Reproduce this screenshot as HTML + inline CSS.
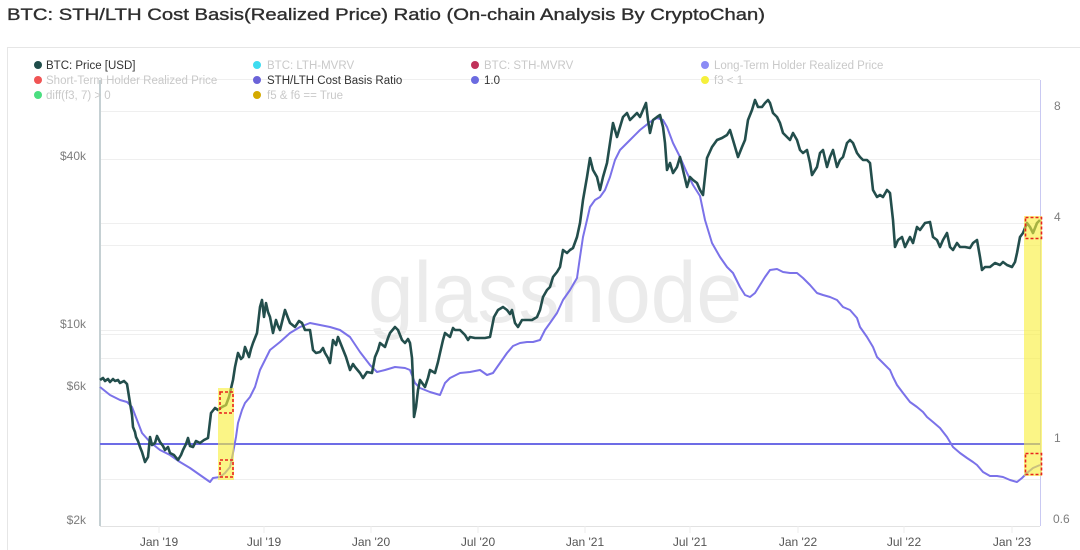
<!DOCTYPE html>
<html><head><meta charset="utf-8"><style>
html,body{margin:0;padding:0;background:#fff;}
svg{display:block;}
</style></head><body>
<svg width="1080" height="550" viewBox="0 0 1080 550" xmlns="http://www.w3.org/2000/svg" font-family="'Liberation Sans', sans-serif">
<rect width="1080" height="550" fill="#fff"/>
<text x="7" y="20" font-size="17" fill="#2e2e2e" stroke="#2e2e2e" stroke-width="0.35" textLength="758" lengthAdjust="spacingAndGlyphs">BTC: STH/LTH Cost Basis(Realized Price) Ratio (On-chain Analysis By CryptoChan)</text>
<rect x="7.5" y="47.5" width="1090" height="520" fill="none" stroke="#e6e6e6" stroke-width="1"/>

<!-- watermark -->
<text x="368" y="322" font-size="86" fill="#ebebeb" textLength="374" lengthAdjust="spacingAndGlyphs">glassnode</text>

<!-- grid -->
<g stroke="#efefef" stroke-width="1">
<line x1="100" y1="79.5" x2="1040" y2="79.5"/>
<line x1="100" y1="111.5" x2="1040" y2="111.5"/>
<line x1="100" y1="159.5" x2="1040" y2="159.5"/>
<line x1="100" y1="223.5" x2="1040" y2="223.5"/>
<line x1="100" y1="245.5" x2="1040" y2="245.5"/>
<line x1="100" y1="330.5" x2="1040" y2="330.5"/>
<line x1="100" y1="334.5" x2="1040" y2="334.5"/>
<line x1="100" y1="358.5" x2="1040" y2="358.5"/>
<line x1="100" y1="393.5" x2="1040" y2="393.5"/>
<line x1="100" y1="479.5" x2="1040" y2="479.5"/>
</g>
<line x1="100" y1="526.5" x2="1040" y2="526.5" stroke="#e2e2e2" stroke-width="1"/>
<g stroke="#ececec" stroke-width="1">
<line x1="159" y1="526" x2="159" y2="533"/><line x1="264" y1="526" x2="264" y2="533"/>
<line x1="371" y1="526" x2="371" y2="533"/><line x1="478" y1="526" x2="478" y2="533"/>
<line x1="585" y1="526" x2="585" y2="533"/><line x1="690" y1="526" x2="690" y2="533"/>
<line x1="798" y1="526" x2="798" y2="533"/><line x1="904" y1="526" x2="904" y2="533"/>
<line x1="1012" y1="526" x2="1012" y2="533"/>
</g>
<line x1="100" y1="80" x2="100" y2="526" stroke="#c5d0d3" stroke-width="2"/>
<line x1="1040.5" y1="80" x2="1040.5" y2="526" stroke="#c9c9f2" stroke-width="1"/>

<!-- 1.0 line -->
<line x1="100" y1="444" x2="1040" y2="444" stroke="#6d6ce6" stroke-width="2"/>

<!-- ratio line -->
<polyline fill="none" stroke="#7b72e9" stroke-width="2" stroke-linejoin="round" points="100,387 110,395 120,400 127,402 132,407 137,420 142,433 150,442 160,450 170,455 180,462 190,468 200,475 210,482 213,478 220,477 225,473 230,467 233,453 236,437 238,423 242,410 245,403 250,397 255,387 260,370 265,360 270,350 280,342 290,333 300,327 310,323 320,325 330,327 340,330 350,337 360,352 370,365 377,372 385,370 395,367 405,368 410,370 415,383 420,388 430,392 440,395 445,383 450,378 460,373 470,372 480,370 487,375 493,373 500,363 507,353 513,346 520,343 527,342 533,342 540,340 545,330 550,323 557,313 563,300 570,290 577,278 580,257 583,237 587,220 590,207 595,200 600,197 605,190 610,177 615,160 620,150 630,140 640,130 650,122 657,118 663,120 667,127 673,143 680,157 687,173 693,185 700,196 705,220 712,243 720,257 727,267 733,273 740,287 745,295 750,297 755,293 760,285 765,277 770,270 777,269 783,272 790,273 797,273 803,278 810,285 817,293 823,295 830,297 837,300 843,307 850,310 857,318 860,327 867,337 873,347 877,357 883,363 890,370 893,377 897,385 903,393 910,402 917,407 923,412 927,417 933,422 940,428 947,437 953,447 960,453 967,458 973,462 977,465 983,472 990,476 997,476 1003,477 1010,480 1017,482 1022,478 1027,473 1033,468 1040,465"/>

<!-- price line -->
<polyline fill="none" stroke="#234e4c" stroke-width="2.6" stroke-linejoin="round" points="100,380 103,378 105,381 108,379 110,382 113,379 115,381 118,380 120,383 124,381 127,384 130,403 132,415 133,427 135,432 136,437 138,441 140,447 142,452 145,462 148,457 150,437 152,445 155,443 157,436 160,442 163,446 165,450 168,447 170,453 174,455 178,460 181,455 183,450 186,444 188,438 190,446 193,447 196,441 200,443 204,440 208,438 211,413 215,408 218,410 222,407 226,405 229,397 233,380 235,367 238,353 241,359 243,357 245,347 249,357 251,349 253,343 257,333 260,307 262,300 264,317 266,303 268,312 270,317 273,333 276,320 278,326 280,330 283,318 285,310 288,318 290,323 295,327 299,321 302,323 305,330 310,330 313,350 316,353 320,352 323,348 325,353 328,358 330,363 333,340 336,345 338,337 342,347 346,357 350,370 353,364 355,367 360,373 363,378 367,372 372,373 375,357 378,350 380,343 385,347 388,338 390,333 395,327 398,330 402,340 405,343 408,339 410,343 412,358 413,380 414,417 416,407 418,390 420,380 425,387 428,378 430,370 435,373 438,362 440,353 443,340 445,333 450,337 453,328 455,330 460,330 465,335 468,340 470,337 475,338 480,338 485,338 490,337 494,317 498,310 503,307 507,310 510,314 512,310 515,323 518,327 522,320 527,320 532,320 537,317 540,310 543,297 547,290 550,287 553,277 557,272 560,267 563,250 567,253 570,250 573,248 577,237 580,223 583,200 587,177 590,158 593,170 597,177 600,190 603,177 607,163 610,143 613,123 617,137 620,127 623,117 627,113 630,120 633,117 637,113 640,117 643,110 646,103 648,120 650,133 653,120 657,117 660,115 663,127 665,143 667,170 670,163 673,173 677,167 680,157 683,170 687,187 690,177 693,180 697,183 700,190 703,195 707,158 712,147 717,140 722,138 727,135 730,130 733,140 738,157 742,147 745,140 748,120 752,110 755,100 758,107 762,107 765,103 768,100 770,103 773,113 777,117 780,123 783,133 787,137 790,140 793,133 797,140 800,150 803,153 807,150 810,163 812,175 817,167 820,153 823,150 827,167 830,157 833,150 837,167 840,160 843,157 847,143 850,140 853,143 857,153 860,157 863,160 867,160 870,163 873,190 877,197 880,195 883,197 887,190 890,193 893,220 895,247 898,240 902,237 905,247 910,237 913,243 917,227 920,230 925,223 930,222 933,237 937,240 940,247 943,240 947,233 950,247 953,250 957,243 960,247 965,247 970,248 973,243 977,240 980,257 982,270 985,267 990,267 995,263 1000,265 1003,262 1007,265 1012,267 1015,262 1017,253 1020,237 1023,233 1027,223 1030,227 1033,233 1037,223 1040,220"/>

<!-- yellow bands -->
<rect x="218" y="388" width="16" height="92" fill="#f9ef3c" opacity="0.62"/>
<rect x="1024" y="216" width="18" height="260" fill="#f9ef3c" opacity="0.62"/>

<!-- red dashed boxes -->
<g fill="none" stroke="#e8231f" stroke-width="1.6" stroke-dasharray="3,2">
<rect x="220" y="392" width="13" height="21"/>
<rect x="220" y="460" width="13" height="17"/>
<rect x="1025.5" y="217.5" width="16" height="21"/>
<rect x="1025.5" y="453.5" width="16" height="21"/>
</g>

<!-- left axis labels -->
<g font-size="12" fill="#7d7d7d" text-anchor="end">
<text x="86" y="160">$40k</text>
<text x="86" y="328">$10k</text>
<text x="86" y="390">$6k</text>
<text x="86" y="524">$2k</text>
</g>
<!-- right axis labels -->
<g font-size="12" fill="#7d7d7d">
<text x="1054" y="110">8</text>
<text x="1054" y="221">4</text>
<text x="1054" y="442">1</text>
<text x="1053" y="523">0.6</text>
</g>
<!-- x axis labels -->
<g font-size="12" fill="#555" text-anchor="middle">
<text x="159" y="546">Jan '19</text>
<text x="264" y="546">Jul '19</text>
<text x="371" y="546">Jan '20</text>
<text x="478" y="546">Jul '20</text>
<text x="585" y="546">Jan '21</text>
<text x="690" y="546">Jul '21</text>
<text x="798" y="546">Jan '22</text>
<text x="904" y="546">Jul '22</text>
<text x="1012" y="546">Jan '23</text>
</g>

<!-- legend -->
<g font-size="11.5">
<circle cx="38" cy="65" r="4" fill="#1f4d4a"/><text x="46" y="69" fill="#333">BTC: Price [USD]</text>
<circle cx="257" cy="65" r="4" fill="#3ddcf0"/><text x="267" y="69" fill="#c9c9c9">BTC: LTH-MVRV</text>
<circle cx="475" cy="65" r="4" fill="#c0325a"/><text x="484" y="69" fill="#c9c9c9">BTC: STH-MVRV</text>
<circle cx="705" cy="65" r="4" fill="#8b8bf5"/><text x="714" y="69" fill="#c9c9c9">Long-Term Holder Realized Price</text>

<circle cx="38" cy="80" r="4" fill="#f05454"/><text x="46" y="84" fill="#c9c9c9">Short-Term Holder Realized Price</text>
<circle cx="257" cy="80" r="4" fill="#6b63d8"/><text x="267" y="84" fill="#333">STH/LTH Cost Basis Ratio</text>
<circle cx="475" cy="80" r="4" fill="#6b6be0"/><text x="484" y="84" fill="#333">1.0</text>
<circle cx="705" cy="80" r="4" fill="#f5f03c"/><text x="714" y="84" fill="#c9c9c9">f3 &lt; 1</text>

<circle cx="38" cy="95" r="4" fill="#4ade80"/><text x="46" y="99" fill="#c9c9c9">diff(f3, 7) &gt; 0</text>
<circle cx="257" cy="95" r="4" fill="#d4aa00"/><text x="267" y="99" fill="#c9c9c9">f5 &amp; f6 == True</text>
</g>
</svg>
</body></html>
